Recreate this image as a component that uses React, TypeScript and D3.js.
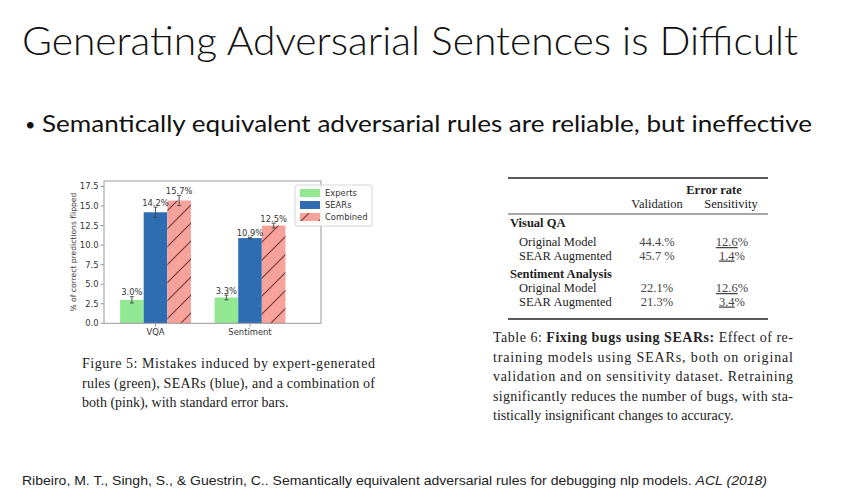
import React from 'react';
import * as d3 from 'd3';

// chart data
const categories = ['VQA', 'Sentiment'];
const seriesNames = ['Experts', 'SEARs', 'Combined'];
const expertsVals = [3.0, 3.3];
const searsVals = [14.2, 10.9];
const combinedVals = [15.7, 12.5];
const expertsErr = [0.4, 0.3];
const searsErr = [0.65, 0.1];
const combinedErr = [0.65, 0.3];
const yTicks = [0, 2.5, 5, 7.5, 10, 12.5, 15, 17.5];

// table data
const tableGroups = ['Visual QA', 'Sentiment Analysis'];
const rowNames = ['Original Model', 'SEAR Augmented'];
const validationVals = [['44.4.%', '45.7 %'], ['22.1%', '21.3%']];
const sensitivityNums = [['12.6', '1.4'], ['12.6', '3.4']];

const fig5Lines = [
  'Figure 5: Mistakes induced by expert-generated',
  'rules (green), SEARs (blue), and a combination of',
  'both (pink), with standard error bars.',
];
const tab6Lines = [
  'Fixing bugs using SEARs:',
  'training models using SEARs, both on original',
  'validation and on sensitivity dataset.  Retraining',
  'significantly reduces the number of bugs, with sta-',
  'tistically insignificant changes to accuracy.',
];

const colors = ['#93e993', '#2f6db3', '#f7a39b'];
const values = [expertsVals, searsVals, combinedVals];
const errs = [expertsErr, searsErr, combinedErr];

const serif = '"Liberation Serif", "Times New Roman", serif';
const chartFont = '"DejaVu Sans", sans-serif';

const App = () => {
  const x = d3.scaleLinear().domain([-0.545, 1.751]).range([104, 321]);
  const y = d3.scaleLinear().domain([0, 18.2]).range([323.3, 181]);
  const barW = 0.25;
  const left = x.range()[0];
  const right = x.range()[1];
  const top = y.range()[1];
  const bottom = y.range()[0];
  const bw = x(barW) - x(0);

  const rowY = d3.scaleLinear().domain([0, 1]).range([246, 259.5]);
  const groupTop = [227, 278];
  const rowTop = [246, 292];

  return (
    <svg width={845} height={499} style={{ position: 'absolute', left: 0, top: 0, background: '#fff' }}>
      <defs>
        <pattern id="hatch" patternUnits="userSpaceOnUse" width={18} height={18}>
          <rect width={18} height={18} fill={colors[2]} />
          <path d="M-2,2 l4,-4 M0,18 l18,-18 M16,20 l4,-4" stroke="#7c3a36" strokeWidth={1.2} />
        </pattern>
      </defs>
      <rect width={845} height={499} fill="#fff" />

      {/* title */}
      <text x={22} y={55} fontFamily="Lato, 'Open Sans', sans-serif" fontWeight={300} fontSize={39}
        textLength={776} lengthAdjust="spacingAndGlyphs" fill="#111">
        Generating Adversarial Sentences is Difficult
      </text>
      <text x={25} y={131} fontFamily="Lato, sans-serif" fontSize={18} fill="#111">•</text>
      <text x={42} y={132} fontFamily="Lato, 'Open Sans', sans-serif" fontSize={24}
        textLength={770} lengthAdjust="spacingAndGlyphs" fill="#111">
        Semantically equivalent adversarial rules are reliable, but ineffective
      </text>

      {/* bar chart */}
      <g fontFamily={chartFont} fontSize={8.4} fill="#333">
        {values.map((vals, si) =>
          vals.map((v, ci) => {
            const cx = x(ci + (si - 1) * barW);
            return (
              <rect key={`${si}-${ci}`} x={cx - bw / 2} y={y(v)} width={bw} height={bottom - y(v)}
                fill={si === 2 ? 'url(#hatch)' : colors[si]} />
            );
          })
        )}
        {values.map((vals, si) =>
          vals.map((v, ci) => {
            const cx = x(ci + (si - 1) * barW);
            const e = errs[si][ci];
            return (
              <g key={`e${si}-${ci}`} stroke="#444" strokeWidth={0.9}>
                <line x1={cx} x2={cx} y1={y(v - e)} y2={y(v + e)} />
                <line x1={cx - 2} x2={cx + 2} y1={y(v - e)} y2={y(v - e)} />
                <line x1={cx - 2} x2={cx + 2} y1={y(v + e)} y2={y(v + e)} />
              </g>
            );
          })
        )}
        {values.map((vals, si) =>
          vals.map((v, ci) => (
            <text key={`l${si}-${ci}`} x={x(ci + (si - 1) * barW)} y={y(v + errs[si][ci]) - 1.5}
              textAnchor="middle">{v.toFixed(1)}%</text>
          ))
        )}
        <rect x={left} y={top} width={right - left} height={bottom - top} fill="none" stroke="#999" strokeWidth={1} />
        {yTicks.map(t => (
          <g key={t}>
            <line x1={left - 3.5} x2={left} y1={y(t)} y2={y(t)} stroke="#999" />
            <text x={left - 5.5} y={y(t) + 3} textAnchor="end">{t.toFixed(1)}</text>
          </g>
        ))}
        {categories.map((c, i) => (
          <g key={c}>
            <line x1={x(i)} x2={x(i)} y1={bottom} y2={bottom + 3.5} stroke="#999" />
            <text x={x(i)} y={bottom + 12} textAnchor="middle">{c}</text>
          </g>
        ))}
        <text transform={`translate(76,${(top + bottom) / 2}) rotate(-90)`} textAnchor="middle" fontSize={7.6}>
          % of correct predictions flipped
        </text>

        {/* legend */}
        <rect x={295} y={185} width={77} height={41} rx={2} fill="#fff" fillOpacity={0.85} stroke="#ccc" strokeWidth={0.8} />
        {seriesNames.map((s, i) => (
          <g key={s}>
            <rect x={300} y={189 + i * 12} width={20} height={8} fill={i === 2 ? 'url(#hatch)' : colors[i]} />
            <text x={325} y={196 + i * 12}>{s}</text>
          </g>
        ))}
      </g>

      {/* figure caption */}
      <g fontFamily={serif} fontSize={14} fill="#222">
        {fig5Lines.map((l, i) => (
          <text key={i} x={82} y={368 + i * 19.5}
            textLength={i < 2 ? 293 : undefined} lengthAdjust="spacing">{l}</text>
        ))}
      </g>

      {/* table */}
      <g fontFamily={serif} fontSize={12.5} fill="#222">
        <line x1={508} x2={768} y1={178} y2={178} stroke="#222" strokeWidth={1.6} />
        <text x={714} y={194} textAnchor="middle" fontWeight="bold">Error rate</text>
        <text x={657} y={208} textAnchor="middle">Validation</text>
        <text x={731} y={208} textAnchor="middle">Sensitivity</text>
        <line x1={508} x2={768} y1={214} y2={214} stroke="#222" strokeWidth={0.8} />
        {tableGroups.map((g, gi) => (
          <g key={g}>
            <text x={510} y={groupTop[gi]} fontWeight="bold">{g}</text>
            {rowNames.map((r, ri) => {
              const yy = rowTop[gi] + (rowY(ri) - rowY(0));
              return (
                <g key={r}>
                  <text x={519} y={yy}>{r}</text>
                  <text x={657} y={yy} textAnchor="middle" fill="#444">{validationVals[gi][ri]}</text>
                  <text x={732} y={yy} textAnchor="middle" fill="#444">
                    <tspan textDecoration="underline">{sensitivityNums[gi][ri]}</tspan>%
                  </text>
                </g>
              );
            })}
          </g>
        ))}
        <line x1={508} x2={768} y1={319} y2={319} stroke="#222" strokeWidth={1.6} />
      </g>

      {/* table caption */}
      <g fontFamily={serif} fontSize={14} fill="#222">
        {tab6Lines.map((l, i) => (
          <text key={i} x={493} y={342 + i * 19.6}
            textLength={i < 4 ? 300 : undefined} lengthAdjust="spacing">
            {i === 0 ? (
              <>
                <tspan>Table 6: </tspan>
                <tspan fontWeight="bold">{l}</tspan>
                <tspan> Effect of re-</tspan>
              </>
            ) : l}
          </text>
        ))}
      </g>

      {/* citation */}
      <text x={22} y={485} fontFamily="'Liberation Sans', Arial, sans-serif" fontSize={13} fill="#222"
        textLength={745} lengthAdjust="spacingAndGlyphs">
        Ribeiro, M. T., Singh, S., &amp; Guestrin, C.. Semantically equivalent adversarial rules for debugging nlp models.{' '}
        <tspan fontStyle="italic">ACL (2018)</tspan>
      </text>
    </svg>
  );
};

export default App;
